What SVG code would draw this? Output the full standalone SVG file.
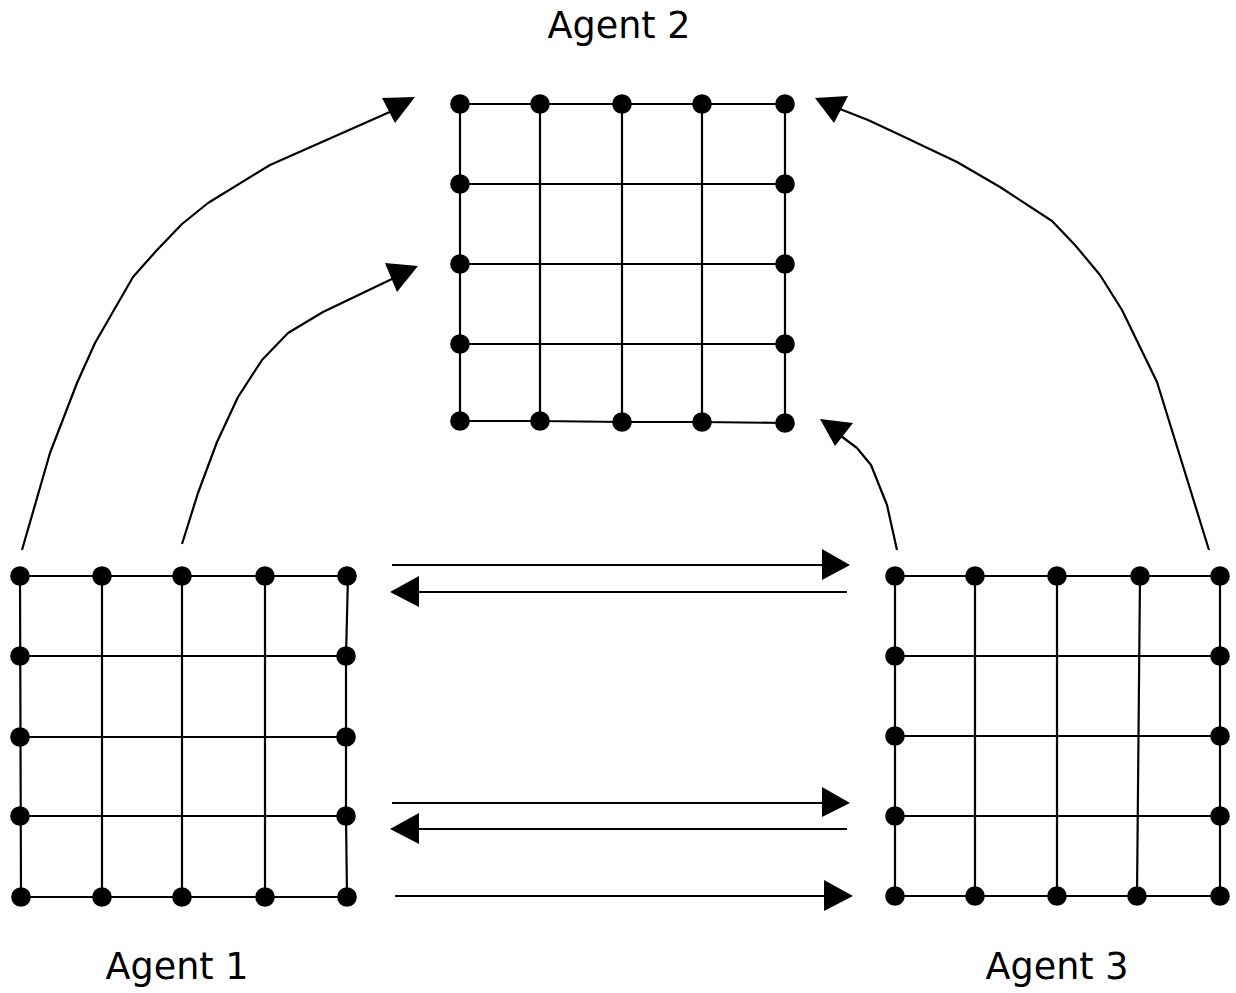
<svg xmlns="http://www.w3.org/2000/svg" width="1236" height="993" viewBox="0 0 1236 993">
  <style>
    .grid { fill: none; stroke: #000; stroke-width: 2.2; }
    .dot { fill: #000; }
    .wire { fill: none; stroke: #000; stroke-width: 2.2; stroke-linejoin: round; }
    .head { fill: #000; }
    .label { font-family: "DejaVu Sans", Verdana, sans-serif; font-size: 36.5px; fill: #000; text-anchor: middle; }
  </style>
  <defs>
    <circle id="node" r="9.8" class="dot"/>
  </defs>
  <rect width="1236" height="993" fill="#fff"/>

  <!-- Agent 2 grid -->
  <g id="agent2">
    <path class="grid" d="M460 104 H785 M460 184 H785 M460 264 H785 M460 344 H785 M460 421 L540 421 L622 422 L702 422 L785 423
      M460 104 V421 M540 104 V421 M622 104 V422 M702 104 V422 M785 104 V423"/>
    <use href="#node" x="460" y="104"/><use href="#node" x="540" y="104"/><use href="#node" x="622" y="104"/><use href="#node" x="702" y="104"/><use href="#node" x="785" y="104"/>
    <use href="#node" x="460" y="184"/><use href="#node" x="785" y="184"/>
    <use href="#node" x="460" y="264"/><use href="#node" x="785" y="264"/>
    <use href="#node" x="460" y="344"/><use href="#node" x="785" y="344"/>
    <use href="#node" x="460" y="421"/><use href="#node" x="540" y="421"/><use href="#node" x="622" y="422"/><use href="#node" x="702" y="422"/><use href="#node" x="785" y="423"/>
    <text class="label" x="619" y="38">Agent 2</text>
  </g>

  <!-- Agent 1 grid -->
  <g id="agent1">
    <path class="grid" d="M20 576 H348 M20 656 H346 M20 737 H346 M20 816 H346 M21 897 H347
      M20 576 L21 897 M102 576 V897 M182 576 V897 M265 576 V897 M348 576 L346 656 L346 737 L346 816 L347 897"/>
    <use href="#node" x="20" y="576"/><use href="#node" x="102" y="576"/><use href="#node" x="182" y="576"/><use href="#node" x="265" y="576"/><use href="#node" x="347" y="576"/>
    <use href="#node" x="20" y="656"/><use href="#node" x="346" y="656"/>
    <use href="#node" x="20" y="737"/><use href="#node" x="346" y="737"/>
    <use href="#node" x="20" y="816"/><use href="#node" x="346" y="816"/>
    <use href="#node" x="21" y="897"/><use href="#node" x="102" y="897"/><use href="#node" x="182" y="897"/><use href="#node" x="265" y="897"/><use href="#node" x="347" y="897"/>
    <text class="label" x="177" y="979">Agent 1</text>
  </g>

  <!-- Agent 3 grid -->
  <g id="agent3">
    <path class="grid" d="M895 576 H1220 M895 656 H1220 M895 736 H1220 M895 816 H1220 M895 896 H1220
      M895 576 V896 M975 576 V896 M1057 576 V896 M1140 576 L1137 896 M1220 576 V896"/>
    <use href="#node" x="895" y="576"/><use href="#node" x="975" y="576"/><use href="#node" x="1057" y="576"/><use href="#node" x="1140" y="576"/><use href="#node" x="1220" y="576"/>
    <use href="#node" x="895" y="656"/><use href="#node" x="1220" y="656"/>
    <use href="#node" x="895" y="736"/><use href="#node" x="1220" y="736"/>
    <use href="#node" x="895" y="816"/><use href="#node" x="1220" y="816"/>
    <use href="#node" x="895" y="896"/><use href="#node" x="975" y="896"/><use href="#node" x="1057" y="896"/><use href="#node" x="1137" y="896"/><use href="#node" x="1220" y="896"/>
    <text class="label" x="1057" y="979">Agent 3</text>
  </g>

  <!-- Connectors -->
  <g id="connectors">
    <!-- Agent 1 to Agent 2, outer -->
    <polyline class="wire" points="22,550 50,453 77,383 95,343 133,277 157,250 182,224 208,203 270,165 392,111"/>
    <polygon class="head" points="382,98 415,97 395,123"/>
    <!-- Agent 1 to Agent 2, inner -->
    <polyline class="wire" points="182,544 198,493 217,442 238,397 262,360 288,333 323,312 394,278"/>
    <polygon class="head" points="385,263 418,266 397,292"/>
    <!-- Agent 3 to Agent 2, outer -->
    <polyline class="wire" points="1209,550 1157,382 1122,310 1100,275 1075,245 1052,221 1000,187 957,162 898,134 868,120 840,109"/>
    <polygon class="head" points="815,98 848,96 834,123"/>
    <!-- Agent 3 to Agent 2, inner -->
    <polyline class="wire" points="897,550 887,505 871,465 857,448 841,436"/>
    <polygon class="head" points="820,419 853,423 835,446"/>

    <!-- Exchanges between Agent 1 and Agent 3 -->
    <line class="wire" x1="392" y1="565" x2="824" y2="565"/>
    <polygon class="head" points="822,549 850,565 822,580"/>
    <line class="wire" x1="847" y1="592" x2="417" y2="592"/>
    <polygon class="head" points="419,576 390,592 419,607"/>
    <line class="wire" x1="392" y1="803" x2="824" y2="803"/>
    <polygon class="head" points="822,787 850,803 822,817"/>
    <line class="wire" x1="847" y1="829" x2="417" y2="829"/>
    <polygon class="head" points="419,813 390,829 419,844"/>
    <line class="wire" x1="395" y1="896" x2="826" y2="896"/>
    <polygon class="head" points="824,880 853,896 824,911"/>
  </g>
</svg>
